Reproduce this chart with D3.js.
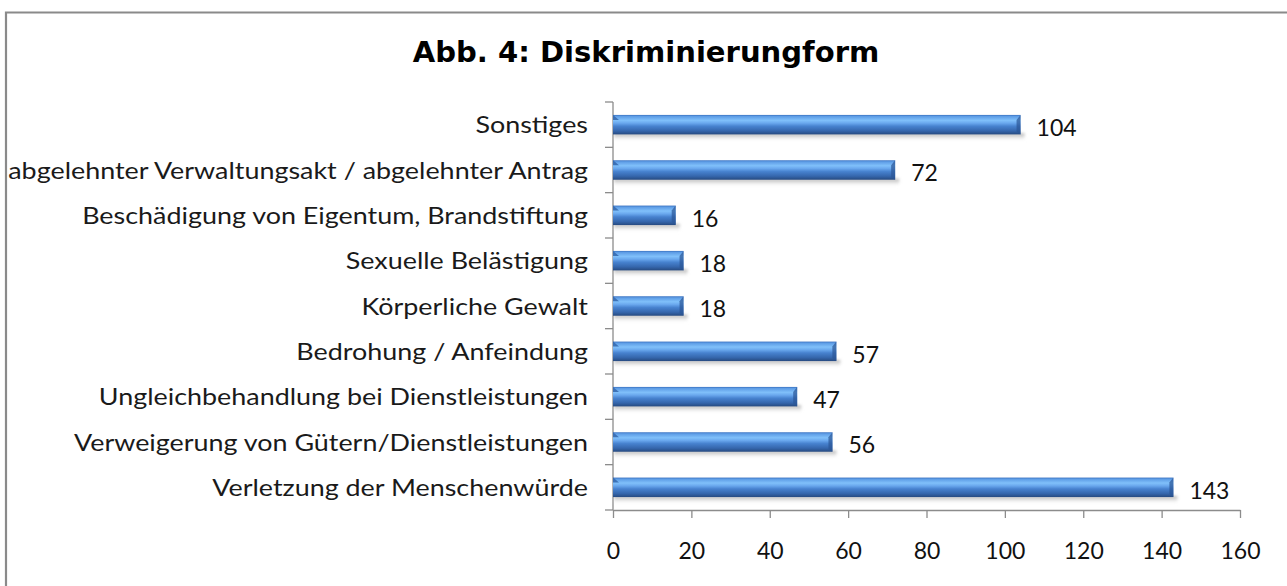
<!DOCTYPE html>
<html><head><meta charset="utf-8">
<script src="https://cdn.jsdelivr.net/npm/d3@7"></script>
<style>html,body{margin:0;padding:0;background:#fff;}svg{display:block;}</style>
</head><body>
<svg id="chart" width="1287" height="586"></svg>
<script>
const categories = [
  "Sonstiges",
  "abgelehnter Verwaltungsakt / abgelehnter Antrag",
  "Beschädigung von Eigentum, Brandstiftung",
  "Sexuelle Belästigung",
  "Körperliche Gewalt",
  "Bedrohung / Anfeindung",
  "Ungleichbehandlung bei Dienstleistungen",
  "Verweigerung von Gütern/Dienstleistungen",
  "Verletzung der Menschenwürde"
];
const values = [104, 72, 16, 18, 18, 57, 47, 56, 143];
const xTicks = [0, 20, 40, 60, 80, 100, 120, 140, 160];
const title = "Abb. 4: Diskriminierungform";

const svg = d3.select("#chart");
const W = 1287, H = 586;
const m = {left: 613, right: 1240, top: 102, bottom: 510};

const defs = svg.append("defs");
const g = defs.append("linearGradient").attr("id","barGrad").attr("x1",0).attr("y1",0).attr("x2",0).attr("y2",1);
[[0,"#3a72c0"],[0.08,"#5e9de6"],[0.28,"#80c0fa"],[0.42,"#6aa8ee"],[0.58,"#4782cf"],[0.82,"#3566ac"],[1,"#264a80"]]
  .forEach(([o,c]) => g.append("stop").attr("offset",o).attr("stop-color",c));
const sg = defs.append("linearGradient").attr("id","shadowGrad").attr("x1",0).attr("y1",0).attr("x2",0).attr("y2",1);
[[0,"#9a9a9a",0.9],[1,"#ffffff",0]].forEach(([o,c,a]) => sg.append("stop").attr("offset",o).attr("stop-color",c).attr("stop-opacity",a));
const blur = defs.append("filter").attr("id","blur").attr("x","-10%").attr("y","-50%").attr("width","120%").attr("height","200%");
blur.append("feGaussianBlur").attr("stdDeviation",1.5);

// frame
svg.append("path").attr("d",`M6,${H} L6,12.5 L${W},12.5`).attr("fill","none").attr("stroke","#8a8a8a").attr("stroke-width",2.2);

// title
const ty = 62;
const tt = svg.append("text").attr("x",646).attr("y",ty).attr("text-anchor","middle")
  .style("font-family","'DejaVu Sans', Verdana, sans-serif").style("font-weight","700").style("font-size","28px")
  .attr("fill","#000").text(title);
const tw = tt.node().getComputedTextLength();
tt.attr("transform",`translate(646,${ty}) scale(${467/tw},1) translate(-646,${-ty})`);

const x = d3.scaleLinear().domain([0,160]).range([m.left, m.right]);
const y = d3.scaleBand().domain(categories).range([m.top, m.bottom]).paddingInner(0.57).paddingOuter(0.285);
const yOuter = d3.scaleBand().domain(categories).range([m.top, m.bottom]);

const txtFont = "Lato, 'Open Sans', sans-serif";
const axisColor = "#8c8c8c";
const gx = svg.append("g").attr("transform",`translate(0,${m.bottom})`)
  .call(d3.axisBottom(x).tickValues(xTicks).tickSize(8).tickSizeOuter(0).tickPadding(25));
gx.select(".domain").attr("stroke",axisColor).attr("stroke-width",1.3);
gx.selectAll(".tick line").attr("stroke",axisColor).attr("stroke-width",1.3);
gx.selectAll(".tick text").style("font-family",txtFont).style("font-size","23px").attr("fill","#111");

svg.append("line").attr("x1",m.left).attr("x2",m.left).attr("y1",m.top).attr("y2",m.bottom).attr("stroke",axisColor).attr("stroke-width",1.3);
const bounds = categories.map(c => yOuter(c)).concat([m.bottom]);
svg.selectAll(".ytick").data(bounds).join("line").attr("class","ytick")
  .attr("x1",m.left-8).attr("x2",m.left).attr("y1",d=>d).attr("y2",d=>d)
  .attr("stroke",axisColor).attr("stroke-width",1.3);

svg.selectAll(".shadow").data(values).join("rect").attr("class","shadow")
  .attr("x", m.left+1).attr("y",(d,i)=>y(categories[i])+y.bandwidth()-1)
  .attr("width", d=>x(d)-m.left+3).attr("height",8)
  .attr("fill","url(#shadowGrad)").attr("filter","url(#blur)");

svg.selectAll(".bar").data(values).join("rect").attr("class","bar")
  .attr("x", m.left).attr("y",(d,i)=>y(categories[i]))
  .attr("width", d=>x(d)-m.left).attr("height", y.bandwidth())
  .attr("fill","url(#barGrad)");
svg.selectAll(".bevelL").data(values).join("path").attr("class","bevelL")
  .attr("d",(d,i)=>{const t=y(categories[i]); return `M${m.left},${t} L${m.left+6},${t+5} L${m.left},${t+5} Z`;})
  .attr("fill","#2f62a8").attr("opacity",0.8);
svg.selectAll(".bevelR").data(values).join("path").attr("class","bevelR")
  .attr("d",(d,i)=>{const t=y(categories[i]), b=t+y.bandwidth(), r=x(d); return `M${r-4},${t+5} L${r},${t} L${r},${b} L${r-4},${b-3} Z`;})
  .attr("fill","#2b5596").attr("opacity",0.7);

const labels = svg.selectAll(".lab").data(categories).join("text").attr("class","lab")
  .attr("x",588).attr("y",d=>yOuter(d)+yOuter.bandwidth()/2).attr("dy","0.36em")
  .attr("text-anchor","end").style("font-family",txtFont).style("font-size","24px").attr("fill","#1a1a1a")
  .text(d=>d);
let maxW = 0; labels.each(function(){ maxW = Math.max(maxW, this.getComputedTextLength()); });
const sx = 580/maxW;
labels.attr("transform", function(){ const cy=+d3.select(this).attr("y"); return `translate(588,${cy}) scale(${sx},1) translate(-588,${-cy})`; });

svg.selectAll(".val").data(values).join("text").attr("class","val")
  .attr("x",d=>x(d)+16).attr("y",(d,i)=>yOuter(categories[i])+yOuter.bandwidth()/2+3).attr("dy","0.36em")
  .style("font-family",txtFont).style("font-size","23px").attr("fill","#111").text(d=>d);
</script>
</body></html>
